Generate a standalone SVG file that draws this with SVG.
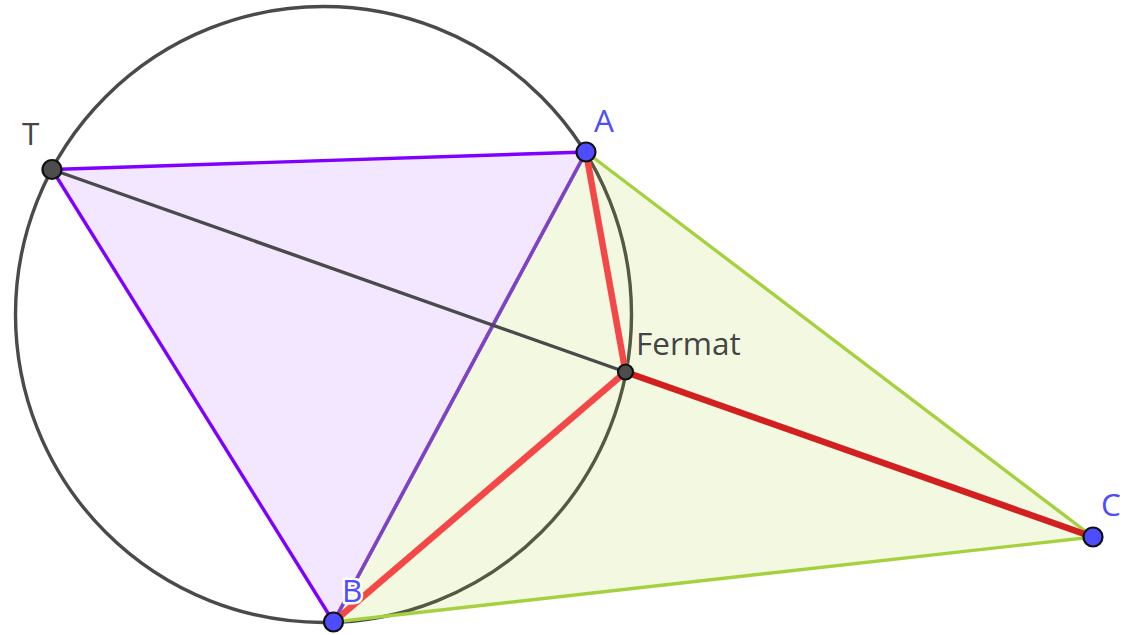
<svg xmlns="http://www.w3.org/2000/svg" width="1128" height="635" viewBox="0 0 1128 635">
<style>
.lbl{font-family:"Open Sans","Liberation Sans",sans-serif;font-size:31.5px}
.blue{fill:#4d4dff}
.gray{fill:#444}
.halo{stroke:#fff;stroke-width:5;stroke-linejoin:round;paint-order:stroke}
.pt{fill:#4d4dff;stroke:#111;stroke-width:2.2}
.dpt{fill:#4d4d4d;stroke:#111;stroke-width:2.2}
</style>
<rect width="1128" height="635" fill="#fff"/>
<g id="connectors">
<circle id="circle" cx="323.5" cy="314.5" r="308" fill="none" stroke="#4a4a4a" stroke-width="3.4"/>
<polygon id="triTAB" points="52,169.5 586,152 333.5,622" fill="#9933ff" fill-opacity="0.12" stroke="#7f00ff" stroke-width="3.4" stroke-linejoin="round"/>
<polygon id="triABC" points="586,152 1093,537 333.5,622" fill="#99cc00" fill-opacity="0.12" stroke="#a6d13f" stroke-width="3.4" stroke-linejoin="round"/>
<line x1="586" y1="152" x2="333.5" y2="622" stroke="#7f3fcf" stroke-width="3.4"/>
<line id="TF" x1="52" y1="169.5" x2="625.5" y2="372" stroke="#4a4a4a" stroke-width="3.4"/>
<line id="AF" x1="586" y1="152" x2="625.5" y2="372" stroke="#f44848" stroke-width="6.5"/>
<line id="BF" x1="333.5" y1="622" x2="625.5" y2="372" stroke="#f44848" stroke-width="6.5"/>
<line id="CF" x1="1093" y1="537" x2="625.5" y2="372" stroke="#d21f1f" stroke-width="6.5"/>
</g>
<g id="T"><circle class="dpt" cx="52" cy="169.5" r="9.5"/><text class="lbl gray" x="22" y="145">T</text></g>
<g id="A"><circle class="pt" cx="586" cy="152" r="9.5"/><text class="lbl blue" x="594" y="132">A</text></g>
<g id="B"><circle class="pt" cx="333.5" cy="622" r="9.5"/><text class="lbl blue halo" x="342" y="602">B</text></g>
<g id="C"><circle class="pt" cx="1093" cy="537" r="9.5"/><text class="lbl blue" x="1101" y="516">C</text></g>
<g id="Fermat"><circle class="dpt" cx="625.5" cy="372" r="7.5"/><text class="lbl gray" x="636" y="355">Fermat</text></g>
</svg>
